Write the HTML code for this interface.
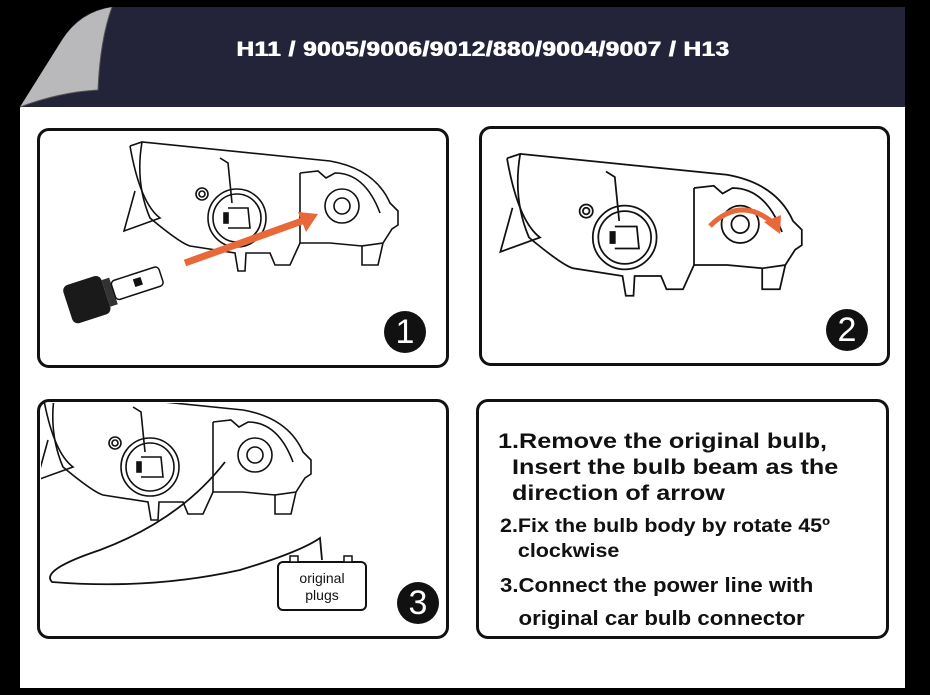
<!DOCTYPE html>
<html><head><style>
html,body{margin:0;padding:0;background:#000;}
.wrap{position:relative;width:930px;height:695px;background:#000;overflow:hidden;font-family:"Liberation Sans",Arial,sans-serif;}
.white{position:absolute;left:20px;top:107px;width:885px;height:581px;background:#fff;}
.hdr{position:absolute;left:20px;top:7px;width:885px;height:100px;background:#23243a;}
.title{position:absolute;left:483px;top:38px;white-space:nowrap;color:#fff;font-weight:bold;font-size:21px;letter-spacing:0.5px;transform:translateX(-50%) scaleX(1.15);text-shadow:0.6px 0 0 #fff,-0.3px 0 0 #fff;}
.panel{position:absolute;border:3px solid #111;border-radius:12px;background:#fff;box-sizing:border-box;}
.num{position:absolute;width:42px;height:42px;border-radius:50%;background:#111;color:#fff;font-size:34px;text-align:center;line-height:42px;}
.txt{position:absolute;font-weight:bold;color:#111;font-size:20px;line-height:26px;white-space:nowrap;transform-origin:0 0;}
</style></head><body><div class="wrap">
<div class="hdr"></div>
<div class="white"></div>
<svg style="position:absolute;left:0;top:0" width="140" height="110">
<path d="M0,0 L112,0 L112,7 Q80,10 62,40 Q40,80 20,107 L0,107 Z" fill="#000"/>
<path d="M112,7 Q100,40 98,90 Q60,92 20,107 Q40,75 62,40 Q80,12 112,7 Z" fill="#b9b9bb"/>
<path d="M112,7 Q100,40 98,90 Q60,92 20,107" fill="none" stroke="#555" stroke-width="1"/>
</svg>
<div class="title">H11 / 9005/9006/9012/880/9004/9007 / H13</div>

<div class="panel" style="left:37px;top:128px;width:412px;height:240px"></div>
<div class="panel" style="left:479px;top:126px;width:411px;height:240px"></div>
<div class="panel" style="left:37px;top:399px;width:412px;height:240px"></div>
<div class="panel" style="left:476px;top:399px;width:413px;height:240px"></div>

<svg style="position:absolute;left:0;top:0" width="930" height="695">
<defs>
<clipPath id="c3"><rect x="41" y="403" width="404" height="232"/></clipPath>
<g id="hl" fill="none" stroke="#111" stroke-width="1.6">
<path d="M130,143 L142,139 Q250,150 330,158 Q375,166 390,200 L398,208 L398,222 L392,226 L383,240 L362,243 L362,262 L378,262 L383,240"/>
<path d="M142,139 Q135,180 150,215 Q180,240 190,243 L235,250 L238,268 L245,268 L246,250 L270,250 L275,262 L290,262 L300,240 L330,240 L362,243"/>
<path d="M130,143 Q140,200 160,215 L124,228 L135,188"/>
<path d="M220,155 L228,160 L232,200"/>
<path d="M300,170 L318,168 L326,175 L335,170 Q365,170 380,210"/>
<path d="M300,170 L300,240"/>
<circle cx="237" cy="215" r="29"/><circle cx="237" cy="215" r="24"/>
<circle cx="202" cy="191" r="6"/><circle cx="202" cy="191" r="3"/>
<circle cx="342" cy="203" r="17"/><circle cx="342" cy="203" r="8"/>
<path d="M228,205 L248,205 L250,225 L228,225" /><rect x="224" y="210" width="4" height="10" fill="#111"/>
</g>
</defs>
<use href="#hl" transform="translate(0,3)"/>
<use href="#hl" transform="translate(364,1) scale(1.1)"/>
<g clip-path="url(#c3)"><use href="#hl" transform="translate(-87,252)"/></g>
<!-- arrow panel 1 -->
<path d="M185,263 L305,220" stroke="#e8683a" stroke-width="7"/>
<path d="M318,214 L298,212 L306,232 Z" fill="#e8683a"/>
<!-- bulb -->
<g transform="rotate(-18 110 290)">
<rect x="65" y="272" width="40" height="40" rx="6" fill="#1a1a1a"/>
<rect x="105" y="278" width="8" height="28" fill="#333"/>
<rect x="113" y="282" width="50" height="20" rx="4" fill="#fff" stroke="#111" stroke-width="1.5"/>
<rect x="135" y="287" width="8" height="8" fill="#111"/>
</g>
<!-- rotate arrow panel 2 -->
<path d="M710,226 Q740,196 772,222" fill="none" stroke="#e8683a" stroke-width="5"/>
<path d="M780,234 L764,222 L781,215 Z" fill="#e8683a"/>
<!-- wire panel 3 -->
<path d="M225,462 Q180,520 100,550 Q40,570 52,582 Q150,590 240,570 Q300,552 320,538 L322,560" fill="none" stroke="#111" stroke-width="1.8"/>
<rect x="278" y="562" width="88" height="48" rx="5" fill="#fff" stroke="#111" stroke-width="2"/>
<rect x="290" y="556" width="8" height="6" fill="#fff" stroke="#111" stroke-width="1.5"/>
<rect x="344" y="556" width="8" height="6" fill="#fff" stroke="#111" stroke-width="1.5"/>
<text x="322" y="583" font-family="Liberation Sans" font-size="14" text-anchor="middle" fill="#111">original</text>
<text x="322" y="600" font-family="Liberation Sans" font-size="14" text-anchor="middle" fill="#111">plugs</text>
</svg>

<div class="num" style="left:384px;top:311px">1</div>
<div class="num" style="left:826px;top:309px">2</div>
<div class="num" style="left:397px;top:582px">3</div>

<div class="txt" style="left:498px;top:429px;font-size:21px;transform:scaleX(1.2)">1.Remove the original bulb,<br>&nbsp;&nbsp;Insert the bulb beam as the<br>&nbsp;&nbsp;direction of arrow</div>
<div class="txt" style="left:500px;top:514px;font-size:19px;line-height:25px;transform:scaleX(1.13)">2.Fix the bulb body by rotate 45º<br>&nbsp;&nbsp;&nbsp;clockwise</div>
<div class="txt" style="left:500px;top:570px;font-size:20px;line-height:33px;transform:scaleX(1.11)">3.Connect the power line with<br>&nbsp;&nbsp;&nbsp;original car bulb connector</div>
</div></body></html>
